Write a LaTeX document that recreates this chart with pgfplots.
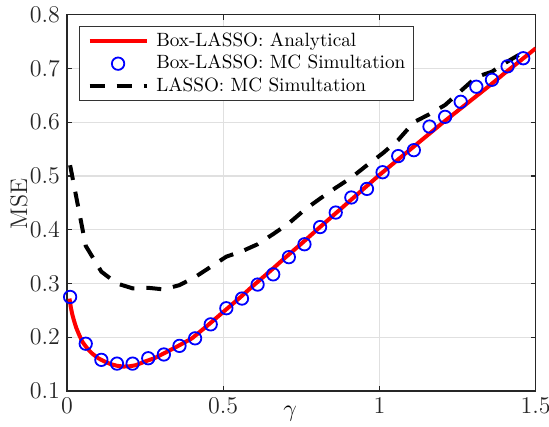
\documentclass[border=0pt]{standalone}
\usepackage{pgfplots}
\pgfplotsset{compat=1.18}
\pgfplotsset{
  markleg/.style={legend image code/.code={\draw[mark repeat=2,mark phase=2,##1] plot coordinates {(0pt,0pt) (14.25pt,0pt) (28.5pt,0pt)};}},
  lineleg/.style={legend image code/.code={\draw[##1] (0pt,0pt) -- (28.5pt,0pt);}},
}
\begin{document}
\begin{tikzpicture}
\begin{axis}[
  scale only axis,
  width=234.4pt, height=188.2pt,
  xmin=0, xmax=1.5, ymin=0.1, ymax=0.8,
  xtick={0,0.5,1,1.5},
  ytick={0.1,0.2,0.3,0.4,0.5,0.6,0.7,0.8},
  yticklabels={0.1,0.2,0.3,0.4,0.5,0.6,0.7,0.8},
  tick label style={font=\fontsize{12}{14}\selectfont, color=black!85},
  tick align=inside,
  major tick length=2.5pt,
  tick style={color=black!85, line width=0.6pt},
  axis line style={color=black!85, line width=0.7pt},
  grid=major,
  major grid style={color=black!12, line width=0.6pt},
  xlabel={$\gamma$},
  xlabel style={at={(axis description cs:0.476,-0.068)}, anchor=base, font=\fontsize{12.5}{14}\selectfont},
  ylabel={MSE},
  ylabel style={at={(axis description cs:-0.0853,0.497)}, anchor=base, font=\fontsize{12}{14}\selectfont, color=black!85},
  legend cell align=left,
  legend style={at={(axis description cs:0.0256,0.970)}, anchor=north west,
    draw=black!80, line width=0.6pt, fill=white,
    font=\fontsize{9.6}{11}\selectfont,
    inner xsep=4pt, inner ysep=2.6pt,
    row sep=1.85pt,
    nodes={inner sep=0pt, text height=7.2pt, text depth=2.2pt},
    /tikz/every odd column/.append style={column sep=3.85pt}},
]
\addplot[red, line width=2pt, lineleg]
coordinates {
(0.008,0.272) (0.012,0.257) (0.016,0.245) (0.02,0.236) (0.025,0.226)
(0.03,0.217) (0.04,0.203) (0.05,0.191) (0.06,0.183) (0.07,0.176)
(0.08,0.170) (0.10,0.161) (0.12,0.155) (0.14,0.150) (0.16,0.147)
(0.18,0.1455) (0.20,0.146) (0.22,0.148) (0.25,0.155) (0.28,0.161)
(0.30,0.167) (0.35,0.182) (0.40,0.198) (0.45,0.222) (0.50,0.247)
(0.55,0.272) (0.60,0.298) (0.65,0.323) (0.70,0.349) (0.75,0.374)
(0.80,0.400) (0.85,0.4255) (0.90,0.451) (0.95,0.4765) (1.00,0.502)
(1.05,0.526) (1.10,0.550) (1.15,0.574) (1.20,0.598) (1.25,0.621)
(1.30,0.644) (1.35,0.667) (1.40,0.691) (1.45,0.714) (1.50,0.7375)
};
\addlegendentry{Box-LASSO: Analytical}
\addplot[only marks, mark=o, mark size=3.1pt, blue, mark options={line width=0.9pt}, markleg]
coordinates {
(0.01,0.275) (0.06,0.188) (0.11,0.158) (0.16,0.151) (0.21,0.151)
(0.26,0.161) (0.31,0.168) (0.36,0.184) (0.41,0.198) (0.46,0.224)
(0.51,0.254) (0.56,0.272) (0.61,0.298) (0.66,0.317) (0.71,0.349)
(0.76,0.373) (0.81,0.405) (0.86,0.432) (0.91,0.460) (0.96,0.476)
(1.01,0.507) (1.06,0.537) (1.11,0.548) (1.16,0.592) (1.21,0.610)
(1.26,0.638) (1.31,0.666) (1.36,0.679) (1.41,0.704) (1.46,0.719)
};
\addlegendentry{Box-LASSO: MC Simultation}
\addplot[black, line width=2pt, dash pattern=on 7.5pt off 6pt, lineleg]
coordinates {
(0.01,0.52) (0.06,0.37) (0.11,0.322) (0.16,0.300) (0.21,0.291)
(0.26,0.292) (0.31,0.289) (0.36,0.297) (0.41,0.312) (0.46,0.331)
(0.51,0.350) (0.56,0.360) (0.61,0.373) (0.66,0.392) (0.71,0.412)
(0.76,0.437) (0.81,0.458) (0.86,0.478) (0.91,0.497) (0.96,0.520)
(1.01,0.542) (1.06,0.567) (1.11,0.600) (1.16,0.615) (1.21,0.632)
(1.26,0.658) (1.31,0.684) (1.36,0.694) (1.41,0.713) (1.46,0.730)
};
\addlegendentry{LASSO: MC Simultation}
\coordinate (sw) at (rel axis cs:0,0);
\coordinate (ne) at (rel axis cs:1,1);
\end{axis}
\pgfresetboundingbox
\useasboundingbox ([xshift=-33.5pt,yshift=-17.5pt]sw) rectangle ([xshift=6.65pt,yshift=7.35pt]ne);
\end{tikzpicture}
\end{document}
